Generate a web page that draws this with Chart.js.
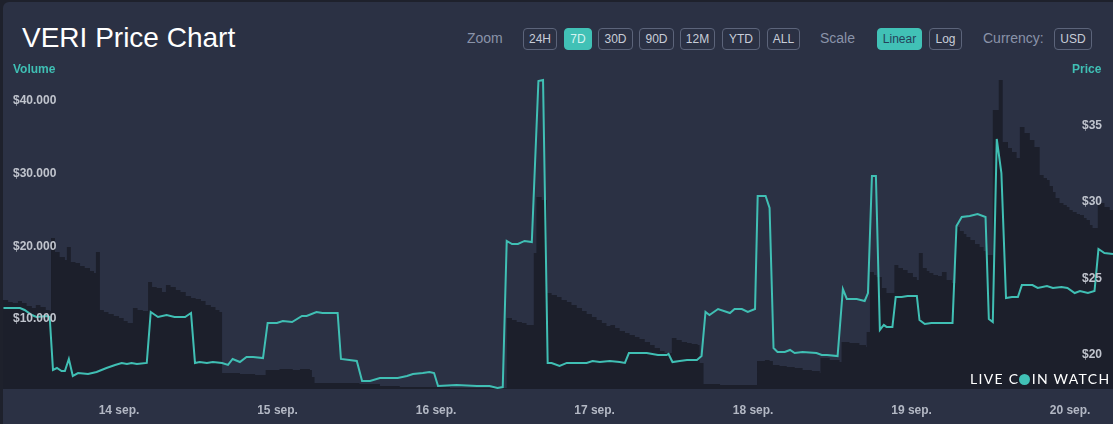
<!DOCTYPE html>
<html>
<head>
<meta charset="utf-8">
<script src="https://cdn.jsdelivr.net/npm/chart.js@4.4.1/dist/chart.umd.min.js"></script>
<style>
    html, body { margin: 0; padding: 0; background: #1e212c; width: 1113px; height: 424px; overflow: hidden; }
    .card { position: absolute; left: 3px; top: 2px; width: 1130px; height: 430px; background: #2b3144; border-radius: 6px 0 0 0; font-family: "Liberation Sans", Arial, sans-serif; }
    .title { position: absolute; left: 19px; top: 22px; font-size: 28px; line-height: 28px; color: #ffffff; }
    .lbl { position: absolute; top: 25px; height: 22px; line-height: 22px; font-size: 14px; color: #8a93a9; }
    .btn { position: absolute; top: 26px; height: 20px; line-height: 20px; font-size: 12px; text-align: center; color: #c8cdd8; border: 1px solid #5c647a; border-radius: 4px; box-sizing: content-box; }
    .btn.on { background: #41c1b6; border-color: #41c1b6; color: #d6f4f1; }
    .btn.on.dark { color: #24425a; }
    .axis-title { position: absolute; top: 60px; font-size: 12px; font-weight: bold; color: #3fbfb4; }
    .chart-box { position: absolute; left: 0; top: 58px; width: 1110px; height: 364px; }
    .mark { position: absolute; left: 967px; top: 368px; font-family: "Lato", "Open Sans", sans-serif; font-size: 14px; letter-spacing: 1.3px; color: #ffffff; white-space: nowrap; }
    .mark i { display: inline-block; width: 11px; height: 11px; border-radius: 50%; background: #41c1b6; vertical-align: -1px; margin: 0 1.3px 0 0; }
</style>
</head>
<body>
<div class="card">
    <div class="title">VERI Price Chart</div>

    <div class="lbl" style="left:464px">Zoom</div>
    <div class="btn" style="left:520px;width:32px">24H</div>
    <div class="btn on" style="left:561px;width:26px">7D</div>
    <div class="btn" style="left:595px;width:33px">30D</div>
    <div class="btn" style="left:636px;width:33px">90D</div>
    <div class="btn" style="left:677px;width:33px">12M</div>
    <div class="btn" style="left:719px;width:36px">YTD</div>
    <div class="btn" style="left:764px;width:31px">ALL</div>
    <div class="lbl" style="left:817px">Scale</div>
    <div class="btn on dark" style="left:874px;width:43px">Linear</div>
    <div class="btn" style="left:926px;width:31px">Log</div>
    <div class="lbl" style="left:980px">Currency:</div>
    <div class="btn" style="left:1051px;width:36px">USD</div>

    <div class="chart-box"><canvas id="price-chart"></canvas></div>

    <div class="axis-title" style="left:10px">Volume</div>
    <div class="axis-title" style="left:1069px">Price</div>

    <div class="mark">LIVE C<i></i>IN WATCH</div>
</div>

<script>
// time in hours from 13 sep 00:00
var PRICE_HOURS = [
    6.5, 7.9, 9.0, 9.7, 10.8, 11.5, 13.1, 13.5, 14.0, 14.6,
    15.3, 15.8, 16.4, 17.0, 17.8, 19.3, 20.6, 22.1, 23.4, 24.4,
    25.2, 25.9, 26.7, 28.2, 28.8, 29.9, 31.2, 32.4, 34.0, 34.9,
    35.5, 36.2, 37.3, 38.2, 39.6, 40.5, 41.2, 42.3, 43.3, 44.3,
    45.8, 46.5, 47.9, 48.8, 50.2, 51.7, 52.4, 53.9, 54.8, 56.7,
    57.1, 57.6, 60.0, 60.8, 62.0, 63.5, 66.2, 67.6, 68.5, 70.0,
    71.0, 71.7, 72.3, 75.1, 78.2, 80.1, 81.3, 82.1, 82.7, 83.5,
    84.4, 85.4, 86.5, 87.5, 88.2, 88.9, 89.5, 90.7, 91.8, 93.3,
    94.8, 95.7, 96.8, 98.3, 99.8, 100.6, 101.2, 102.4, 103.9, 105.6,
    106.9, 107.2, 107.8, 108.9, 110.0, 111.5, 112.2, 112.8, 113.4, 114.7,
    116.5, 117.2, 118.3, 119.2, 120.3, 120.7, 121.9, 122.5, 123.1, 123.7,
    124.8, 125.6, 126.3, 127.5, 129.6, 130.4, 131.2, 132.8, 133.6, 134.2,
    135.7, 136.9, 137.4, 138.0, 138.6, 139.2, 139.8, 140.2, 141.1, 141.6,
    142.5, 143.4, 144.8, 145.2, 146.0, 147.0, 148.3, 150.2, 150.8, 151.6,
    152.8, 154.0, 155.2, 155.7, 156.3, 156.9, 157.6, 158.3, 159.2, 160.1,
    160.7, 162.3, 163.1, 164.5, 165.4, 166.7, 167.6, 168.7, 169.5, 170.7,
    171.7, 172.3, 173.2, 174.5
];
var PRICE_VALUES = [
    23.06, 23.06, 23.06, 22.93, 22.60, 22.47, 22.53, 22.47, 19.00, 19.13,
    18.93, 18.93, 19.72, 18.61, 18.80, 18.74, 18.87, 19.13, 19.33, 19.46,
    19.39, 19.46, 19.39, 19.46, 22.80, 22.47, 22.60, 22.47, 22.47, 22.73,
    19.46, 19.52, 19.46, 19.52, 19.46, 19.33, 19.72, 19.52, 19.85, 19.85,
    19.78, 22.08, 22.08, 22.21, 22.14, 22.54, 22.54, 22.80, 22.73, 22.73,
    22.73, 19.72, 19.59, 18.28, 18.28, 18.47, 18.47, 18.61, 18.74, 18.80,
    18.87, 18.80, 17.95, 18.02, 17.95, 17.95, 17.82, 17.88, 27.45, 27.25,
    27.25, 27.45, 27.38, 37.92, 37.99, 19.46, 19.46, 19.26, 19.46, 19.46,
    19.46, 19.59, 19.52, 19.59, 19.52, 19.46, 20.11, 20.11, 20.11, 19.98,
    19.98, 20.05, 19.52, 19.59, 19.65, 19.65, 19.91, 22.80, 22.60, 22.99,
    22.73, 22.99, 22.99, 22.80, 22.99, 30.39, 30.39, 29.61, 20.44, 20.18,
    20.18, 20.31, 20.11, 20.18, 20.11, 19.98, 19.98, 19.91, 24.30, 23.65,
    23.65, 23.52, 24.04, 31.70, 31.70, 21.62, 21.95, 21.82, 21.82, 23.78,
    23.78, 23.84, 23.84, 22.27, 22.01, 22.08, 22.08, 22.08, 28.43, 29.02,
    29.08, 29.21, 29.02, 22.34, 22.14, 34.13, 31.90, 23.71, 23.78, 23.78,
    24.56, 24.56, 24.37, 24.50, 24.37, 24.43, 24.37, 24.04, 24.17, 24.04,
    24.17, 26.92, 26.66, 26.59
];
var VOLUME_HOURS = [
    6.4, 7.2, 7.9, 8.7, 9.3, 10.0, 10.8, 11.4, 12.1, 12.9,
    13.5, 13.7, 14.3, 15.0, 15.8, 16.1, 16.7, 17.4, 18.1, 18.8,
    19.6, 20.2, 20.5, 21.1, 21.7, 22.4, 23.2, 24.0, 24.7, 25.3,
    26.1, 26.8, 27.6, 28.4, 29.0, 29.7, 30.5, 31.1, 31.8, 32.6,
    33.3, 34.1, 34.9, 35.6, 36.4, 37.1, 37.9, 38.6, 39.2, 39.6,
    42.3, 44.6, 46.2, 48.3, 50.3, 51.4, 52.9, 53.2, 53.6, 57.4,
    60.4, 63.5, 66.5, 74.1, 81.6, 82.7, 83.5, 84.2, 85.0, 85.7,
    86.8, 87.2, 88.0, 88.8, 89.5, 90.3, 91.0, 91.8, 92.5, 93.3,
    94.1, 94.8, 95.6, 96.3, 97.1, 97.8, 98.4, 99.1, 99.8, 100.6,
    101.3, 102.1, 102.8, 103.6, 104.4, 105.1, 105.9, 106.6, 107.7, 108.4,
    109.2, 110.0, 110.7, 111.6, 111.9, 112.5, 115.0, 120.6, 121.8, 122.5,
    123.0, 124.0, 125.1, 126.3, 127.5, 128.9, 130.1, 130.2, 131.6, 133.1,
    133.4, 134.6, 136.1, 137.1, 137.2, 137.7, 138.3, 138.7, 139.5, 140.2,
    141.4, 142.0, 142.7, 143.4, 144.2, 144.8, 145.1, 145.7, 146.3, 146.7,
    147.3, 148.0, 148.6, 149.3, 150.1, 150.7, 151.3, 151.9, 152.3, 152.9,
    153.6, 154.3, 154.9, 155.4, 156.3, 157.2, 157.8, 158.6, 159.2, 159.9,
    160.4, 161.1, 161.9, 162.6, 163.4, 164.0, 164.5, 164.9, 165.4, 165.8,
    166.4, 167.0, 167.5, 167.9, 168.4, 169.0, 169.5, 170.1, 170.5, 171.0,
    171.4, 172.2, 173.2, 174.0, 174.5
];
var VOLUME_VALUES = [
    12610, 12340, 12200, 12480, 12200, 11790, 11510, 11930, 11650, 11240,
    11100, 21130, 19210, 18520, 18110, 19900, 17840, 17700, 17290, 17010,
    16600, 16320, 19210, 11240, 10960, 10690, 10420, 10140, 9730, 9450,
    11510, 11240, 11100, 15090, 14400, 14260, 13710, 14670, 14400, 13990,
    13710, 13160, 12890, 12750, 12480, 11930, 11650, 11240, 10960, 2580,
    2450, 2310, 3000, 3130, 3000, 3130, 3000, 2030, 1210, 1210,
    1070, 800, 660, 520, 520, 10140, 9870, 9590, 9450, 9180,
    19070, 26770, 26350, 13580, 13300, 13020, 12610, 12340, 11930, 11510,
    11100, 10690, 10280, 9870, 9450, 9040, 9180, 8770, 8350, 8080,
    7800, 7530, 7250, 6840, 6430, 6020, 5610, 5330, 7390, 7120,
    6840, 6710, 6570, 6430, 3960, 1070, 930, 4230, 4370, 4230,
    3680, 3550, 3410, 3270, 3000, 2860, 2580, 4640, 4370, 4090,
    6840, 6710, 6430, 6160, 8220, 16460, 16050, 15770, 14260, 13580,
    17420, 17010, 16740, 16320, 15770, 15360, 19070, 17010, 16600, 16320,
    16050, 15910, 16460, 15360, 14950, 22640, 22090, 21680, 21270, 20860,
    20310, 19900, 19350, 18800, 38720, 42840, 34320, 33500, 32950, 32130,
    36380, 35560, 34590, 33630, 29790, 29380, 29100, 28280, 27450, 26630,
    25940, 25670, 25390, 24980, 24710, 24430, 24290, 23880, 23610, 22920,
    22510, 25940, 25390, 24980, 24570
];

var DAY_TICKS = [24, 48, 72, 96, 120, 144, 168];
var DAY_LABELS = ["14 sep.", "15 sep.", "16 sep.", "17 sep.", "18 sep.", "19 sep.", "20 sep."];
var VOLUME_TICKS = [10000, 20000, 30000, 40000];
var PRICE_TICKS = [20, 25, 30, 35];

var TEAL = "#40bfb4";
var TICK_FONT = { family: "'Liberation Sans', Arial, sans-serif", size: 12, weight: "bold" };

function toPoints(xs, ys) {
    var out = [];
    for (var i = 0; i < xs.length; i++) out.push({ x: xs[i], y: ys[i] });
    return out;
}

function fixedTicks(values) {
    return function (scale) {
        scale.ticks = values.map(function (v) { return { value: v }; });
    };
}

// mirrored y axes sit inside the plot: no width, no extra padding
function flatAxis(s) {
    s.width = 0;
    s.paddingTop = 0;
    s.paddingBottom = 0;
}

function formatVolume(v) {
    return "$" + (v / 1000) + ".000";
}

new Chart(document.getElementById("price-chart"), {
    type: "line",
    data: {
        datasets: [{
            label: "Price",
            data: toPoints(PRICE_HOURS, PRICE_VALUES),
            yAxisID: "price",
            borderColor: TEAL,
            borderWidth: 2,
            pointRadius: 0,
            tension: 0,
            fill: false
        }, {
            label: "Volume",
            data: toPoints(VOLUME_HOURS, VOLUME_VALUES),
            yAxisID: "volume",
            stepped: true,
            borderWidth: 0,
            borderColor: "rgba(0,0,0,0)",
            backgroundColor: "#1c1f2b",
            pointRadius: 0,
            fill: "origin"
        }]
    },
    options: {
        responsive: true,
        maintainAspectRatio: false,
        animation: false,
        layout: { padding: 0 },
        plugins: { legend: { display: false }, tooltip: { enabled: false } },
        scales: {
            x: {
                type: "linear",
                min: 6.43,
                max: 174.5,
                grid: { display: false },
                border: { display: false },
                afterBuildTicks: fixedTicks(DAY_TICKS),
                afterFit: function (s) { s.height = 35; s.paddingLeft = 0; s.paddingRight = 0; },
                ticks: {
                    color: "#b3b8c4",
                    font: TICK_FONT,
                    padding: 6,
                    maxRotation: 0,
                    autoSkip: false,
                    callback: function (v, i) { return DAY_LABELS[i]; }
                }
            },
            volume: {
                type: "linear",
                position: "left",
                min: 385,
                max: 45600,
                grid: { display: false, drawTicks: false },
                border: { display: false },
                afterBuildTicks: fixedTicks(VOLUME_TICKS),
                afterFit: flatAxis,
                ticks: {
                    z: 1,
                    mirror: true,
                    padding: 10,
                    color: "#c0c4cd",
                    font: TICK_FONT,
                    callback: function (v) { return formatVolume(v); }
                }
            },
            price: {
                type: "linear",
                position: "right",
                min: 17.754,
                max: 39.30,
                grid: { display: false, drawTicks: false },
                border: { display: false },
                afterBuildTicks: fixedTicks(PRICE_TICKS),
                afterFit: flatAxis,
                ticks: {
                    z: 1,
                    mirror: true,
                    padding: -11,
                    color: "#c0c4cd",
                    font: TICK_FONT,
                    callback: function (v) { return "$" + v; }
                }
            }
        }
    }
});
</script>
</body>
</html>
